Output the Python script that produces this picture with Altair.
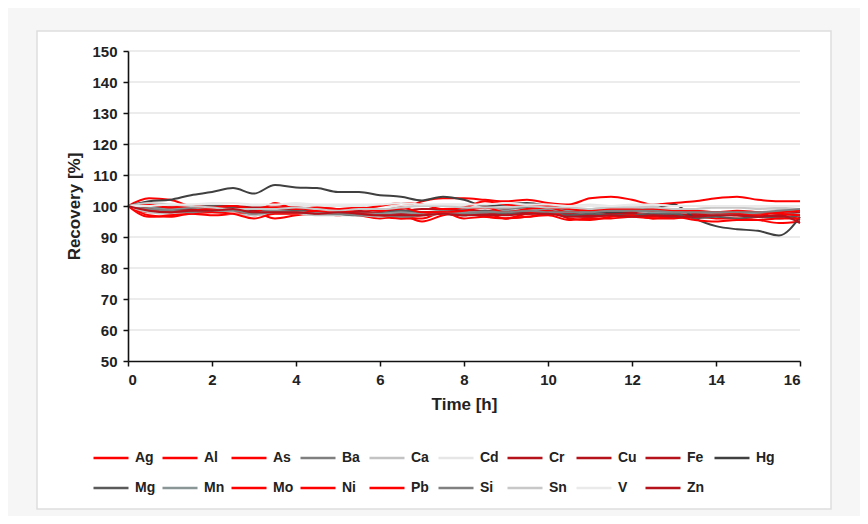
import altair as alt
import pandas as pd

hours = [0, 0.5, 1, 1.5, 2, 2.5, 3, 3.5, 4, 4.5, 5,
         5.5, 6, 6.5, 7, 7.5, 8, 8.5, 9, 9.5, 10, 10.5,
         11, 11.5, 12, 12.5, 13, 13.5, 14, 14.5, 15, 15.5, 16]

elements = ["Ag", "Al", "As", "Ba", "Ca", "Cd", "Cr", "Cu", "Fe", "Hg",
            "Mg", "Mn", "Mo", "Ni", "Pb", "Si", "Sn", "V", "Zn"]
colors = ["#ff0000", "#ff0000", "#ff0000", "#7f7f7f", "#c3c3c3", "#e6e6e6",
          "#b5121b", "#b5121b", "#b5121b", "#404040",
          "#5a5a5a", "#8a9696", "#ff0000", "#ff0000", "#ff0000", "#808080",
          "#c8c8c8", "#eaeaea", "#b5121b"]

Ag = [100, 102.5, 102, 100, 99.5, 100, 99, 100.5, 99, 99.5, 99,
      99.5, 99, 99, 101.5, 102.5, 102.5, 102, 101.5, 102, 101, 100.5,
      102.5, 103, 102, 100.5, 101, 101.5, 102.5, 103, 102, 101.5, 101.5]
Al = [100, 97, 96.5, 97.5, 97, 97.5, 98, 96, 97, 97.5, 97,
      97.5, 96.5, 96, 96, 98, 97, 97.5, 96, 96.5, 97, 95.5,
      96, 96, 96.5, 96, 96, 96.5, 96, 96, 95.5, 94.5, 95]
As = [100, 98, 98.5, 98, 99, 99.5, 97, 98.5, 98, 98.5, 98,
      97, 96, 97, 95, 97, 98, 96.5, 96, 96.5, 97.5, 97,
      96.5, 97, 97, 96.5, 97, 97, 97.5, 97, 96.5, 97, 95.5]
Ba = [100, 99, 98.5, 99, 99.5, 99, 98.5, 99, 99, 98.5, 98,
      98, 97.5, 98.5, 98, 98.5, 99, 99.5, 99, 99.5, 99, 99,
      99, 98.5, 99, 99, 99, 98.5, 98, 98, 98, 97.5, 98]
Ca = [100, 98, 97.5, 98, 98, 97.5, 97, 97.5, 97.5, 97, 97,
      97, 96.5, 97, 97, 97.5, 97, 98, 98, 98.5, 99, 99,
      99, 99.5, 99.5, 100, 100, 100, 99.5, 99.5, 99.5, 99, 99]
Cd = [100, 100.5, 100, 100.5, 100.5, 100, 100, 100.5, 100.5, 100, 100,
      100, 100.5, 100, 100, 100.5, 100.5, 100, 100, 100.5, 100, 100,
      100.5, 100, 100, 100.5, 100, 100, 100, 99.5, 99.5, 100, 100]
Cr = [100, 99, 98.5, 98.5, 99, 99.5, 99, 99, 98.5, 98.5, 98,
      98, 98, 97.5, 97.5, 98, 98, 97.5, 97.5, 97.5, 98, 97.5,
      97, 97, 97, 97.5, 97.5, 97, 97, 97, 96.5, 96.5, 97]
Cu = [100, 100, 99.5, 99.5, 100, 100, 99.5, 99.5, 99.5, 99, 99,
      99, 98.5, 98.5, 99, 99, 98.5, 98.5, 98.5, 98, 98.5, 98,
      98, 98, 98, 98.5, 98, 98, 97.5, 97.5, 97.5, 98, 98]
Fe = [100, 99.5, 99.5, 99, 99.5, 100, 98.5, 99, 98.5, 98, 98,
      98.5, 97.5, 97.5, 98, 98, 97.5, 97, 97.5, 98, 97.5, 97.5,
      97, 97.5, 97.5, 97, 97, 97.5, 98, 97.5, 97, 96.5, 96]
Hg = [100, 101.5, 102, 103.5, 104.5, 105.8, 104, 106.8, 106, 105.8, 104.5,
      104.5, 103.5, 103, 101.8, 103, 102, 100, 100.5, 101, 100, 98.5,
      98, 98, 98.5, 99, 100.5, 96, 93.5, 92.5, 92, 90.5, 96.5]
Mg = [100, 99.5, 99, 99.5, 100, 99.5, 98, 98.5, 98.5, 98, 97.5,
      97, 97.5, 98.5, 98, 97.5, 97, 98.5, 97.5, 97.5, 98, 97,
      97.5, 97, 97, 97.5, 97.5, 96, 96.5, 96, 96.5, 96, 97]
Mn = [100, 99.5, 99, 99.5, 99, 99, 98, 98.5, 98, 98, 98,
      97.5, 97.5, 98, 97.5, 98, 98, 98, 98.5, 98.5, 99, 98.5,
      98.5, 98.5, 98.5, 98, 98, 98, 97.5, 97.5, 97.5, 98, 98.5]
Mo = [100, 99, 98, 98.5, 99, 99, 98, 101, 99, 99.5, 99,
      99, 98.5, 99.5, 98, 98, 98.5, 99.5, 98, 99, 99.5, 98,
      99, 99, 98.5, 99, 98.5, 98.5, 98, 98.5, 98, 97.5, 97]
Ni = [100, 96.5, 97, 97.5, 98, 97.5, 96, 97.5, 97.5, 98.5, 98.5,
      97.5, 97, 96, 97, 98, 96, 96.5, 96, 97.5, 98.5, 96,
      95.5, 96.5, 97, 96, 96.5, 95.5, 95, 95.5, 95.5, 96, 96]
Pb = [100, 100.5, 99.5, 100, 99.5, 100, 99, 99.5, 99.5, 98.5, 98.5,
      99, 100, 101, 100.5, 99, 99.5, 101.5, 100.5, 100, 100, 99,
      98.5, 99, 99, 98.5, 99, 98, 98, 97.5, 97, 98, 98.5]
Si = [100, 99, 98.5, 98, 98.5, 98.5, 97.5, 98, 98, 97.5, 97.5,
      97, 97, 96.5, 97, 97.5, 97.5, 98, 98, 98.5, 98, 98,
      98, 98.5, 98.5, 98.5, 98, 98, 98, 98, 98, 98.5, 99]
Sn = [100, 101, 100.5, 100, 99.5, 99, 99, 99, 99.5, 99, 98.5,
      99, 99, 99.5, 100, 100, 99.5, 99.5, 99.5, 100, 99.5, 99.5,
      99, 99.5, 99.5, 99.5, 99, 99, 99.5, 99.5, 99, 99.5, 100]
V = [100, 100, 100.5, 100.5, 101, 101, 100.5, 100.5, 101, 100.5, 100.5,
     100.5, 100.5, 101, 100.5, 100.5, 100.5, 100.5, 101, 100.5, 100.5, 100,
     100, 100, 100.5, 100.5, 100, 100, 100, 100, 100, 100, 100]
Zn = [100, 98.5, 98, 98.5, 98.5, 99, 98, 98, 98, 97.5, 98,
      97.5, 97, 97, 97, 97.5, 97, 97, 97, 97.5, 97.5, 96.5,
      96.5, 97, 96.5, 97, 96.5, 96.5, 97, 97, 96.5, 97, 94.5]

series = {"Ag": Ag, "Al": Al, "As": As, "Ba": Ba, "Ca": Ca, "Cd": Cd,
          "Cr": Cr, "Cu": Cu, "Fe": Fe, "Hg": Hg, "Mg": Mg, "Mn": Mn,
          "Mo": Mo, "Ni": Ni, "Pb": Pb, "Si": Si, "Sn": Sn, "V": V, "Zn": Zn}

y_ticks = [50, 60, 70, 80, 90, 100, 110, 120, 130, 140, 150]
x_ticks = [0, 2, 4, 6, 8, 10, 12, 14, 16]

rows = []
for el in elements:
    for t, v in zip(hours, series[el]):
        rows.append({"t": t, "v": v, "el": el})
df = pd.DataFrame(rows)

FONT = "Liberation Sans"
xscale = alt.Scale(domain=[0, 16], nice=False, zero=False)
yscale = alt.Scale(domain=[50, 150], nice=False, zero=False)

y_axis = alt.Axis(values=y_ticks, title="Recovery [%]", grid=False, format="d",
                  titlePadding=8, labelPadding=6, zindex=1)
x_axis = alt.Axis(values=x_ticks, title="Time [h]", grid=False, format="d",
                  titlePadding=9, labelPadding=6, zindex=1)

panel = alt.Chart(pd.DataFrame({"p": [0]})).mark_rect(
    fill="white", stroke="#dedede", strokeWidth=1.5
).encode(
    x=alt.value(-91), x2=alt.value(703), y=alt.value(-20), y2=alt.value(458)
)

grid = alt.Chart(pd.DataFrame({"v": y_ticks[1:]})).mark_rule(
    color="#d9d9d9", strokeWidth=1.2
).encode(y=alt.Y("v:Q", scale=yscale, axis=y_axis))

lines = alt.Chart(df).mark_line(strokeWidth=2, interpolate="monotone").encode(
    x=alt.X("t:Q", scale=xscale, axis=x_axis),
    y=alt.Y("v:Q", scale=yscale, axis=y_axis),
    color=alt.Color("el:N", scale=alt.Scale(domain=elements, range=colors),
                    legend=alt.Legend(
                        title=None, orient="none", legendX=-36, legendY=388,
                        direction="horizontal", columns=10, gridAlign="all",
                        symbolType="stroke", symbolSize=1225, symbolStrokeWidth=2.5,
                        labelFont=FONT, labelFontSize=14, labelFontWeight="bold",
                        labelColor="#222222", labelOffset=5, columnPadding=1,
                        rowPadding=4, padding=0, zindex=2)),
)

chart = alt.layer(panel, grid, lines).properties(
    width=672, height=310,
    autosize=alt.AutoSizeParams(type="none"),
    padding={"left": 120, "top": 43, "right": 60, "bottom": 155},
    background="#f6f6f6",
).configure_view(stroke=None).configure_axis(
    domainColor="#111111", domainWidth=1.6, tickColor="#111111",
    tickSize=5, tickWidth=1.5, labelFont=FONT, labelFontSize=15,
    labelFontWeight="bold", labelColor="#222222",
    titleFont=FONT, titleFontSize=17, titleFontWeight="bold", titleColor="#222222",
)

chart.save("out.html", embed_options={"renderer": "svg", "actions": False})
